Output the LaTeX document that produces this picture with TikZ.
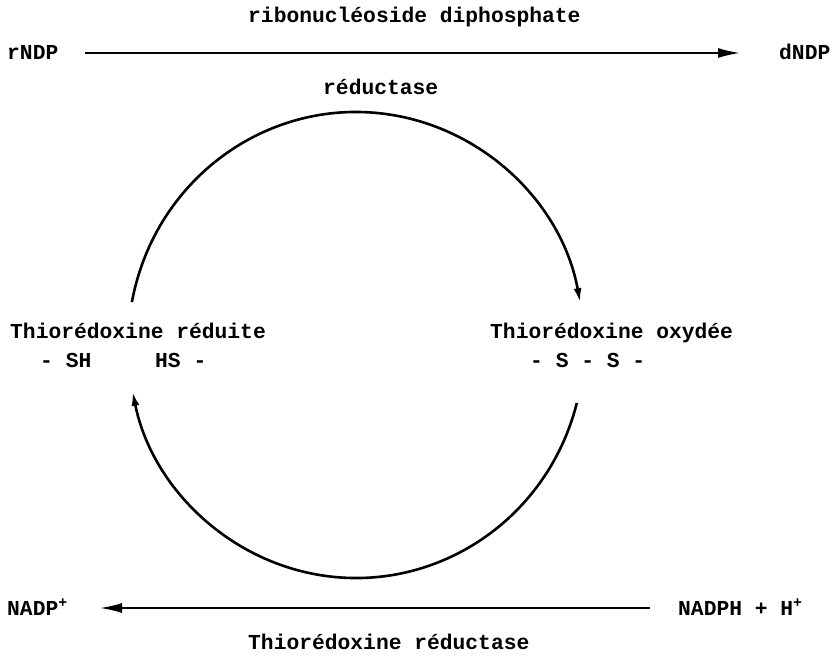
\documentclass[tikz,border=0pt]{standalone}
\usepackage{fontspec}
\setmainfont{Liberation Mono}
\usetikzlibrary{arrows.meta}
\tikzset{
  txt/.style={font=\fontsize{21.3bp}{25bp}\selectfont\bfseries, inner sep=0pt, anchor=base west},
  straightarrow/.style={line width=1.8bp,-{Latex[length=22bp,width=10bp]}},
  cyclearrow/.style={line width=2.6bp,-{Latex[length=14bp,width=8bp]}}
}
\begin{document}
\begin{tikzpicture}[x=1bp,y=-1bp]
\useasboundingbox (0,0) rectangle (840,656);
% top reaction
\node[txt] (rnrA) at (248,23) {ribonucléoside diphosphate};
\node[txt] (rNDP) at (7,60) {rNDP};
\node[txt] (dNDP) at (779,60) {dNDP};
\node[txt] (rnrB) at (323,95) {réductase};
\coordinate (t1) at (85,53);
\coordinate (t2) at (740,53);
\draw[straightarrow] (t1) -- (t2);
% cycle
\coordinate (c) at (356,345);
\draw[cyclearrow] (c) ++(190.6:228 and 233) arc[start angle=190.6, end angle=349.4, x radius=228, y radius=233];
\draw[cyclearrow] (c) ++(14.4:228 and 233) arc[start angle=14.4, end angle=168.4, x radius=228, y radius=233];
% side labels
\node[txt] (red) at (10,338) {Thiorédoxine réduite};
\node[txt] (sh1) at (40,367) {- SH};
\node[txt] (sh2) at (155,367) {HS -};
\node[txt] (ox) at (490,338) {Thiorédoxine oxydée};
\node[txt] (ss) at (530,367) {- S - S -};
% bottom reaction
\node[txt] (nadp) at (7,615) {NADP\textsuperscript{+}};
\node[txt] (nadph) at (678,615) {NADPH + H\textsuperscript{+}};
\coordinate (b1) at (650,608);
\coordinate (b2) at (100,608);
\draw[straightarrow] (b1) -- (b2);
\node[txt] (trr) at (248,649) {Thiorédoxine réductase};
\end{tikzpicture}
\end{document}
